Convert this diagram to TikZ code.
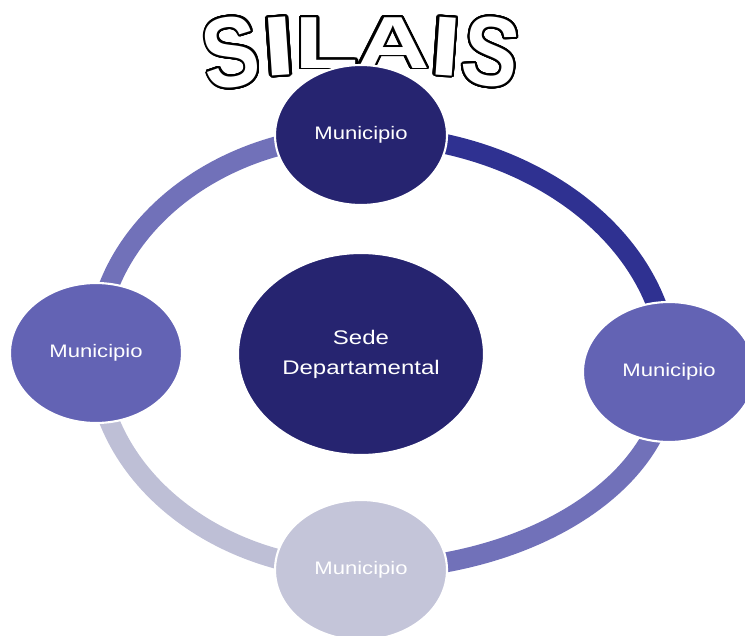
\documentclass[tikz,border=0pt]{standalone}
\usepackage{fontspec}
\usepackage{graphicx}
\usepackage[copies]{contour}
\usetikzlibrary{shapes.geometric,backgrounds}
\setmainfont{Liberation Sans}
\newfontfamily\nodefont[FakeStretch=1.22]{Liberation Sans}
\newfontfamily\titlefont{Liberation Sans}
\contourlength{0.9pt}
\contournumber{32}
\definecolor{navy}{HTML}{262470}
\definecolor{ringdark}{HTML}{2F3191}
\definecolor{munmid}{HTML}{6363B4}
\definecolor{ringmid}{HTML}{7171B9}
\definecolor{munlight}{HTML}{C4C5D9}
\definecolor{ringlight}{HTML}{BEBFD6}
\newcommand{\wordart}[3]{\scalebox{#1}[#2]{{\color{white}\contour{black}{#3}}}}
\begin{document}
\begin{tikzpicture}[scale=0.2]
\tikzstyle{every node}+=[inner sep=0pt]
\tikzstyle{muni}=[ellipse, draw=white, line width=1.2pt, minimum width=3.44cm, minimum height=2.8cm, text=white, font=\nodefont\fontsize{10.3}{12}\selectfont]
\tikzstyle{sede}=[muni, minimum width=4.92cm, minimum height=4.04cm, align=center, font=\nodefont\fontsize{11.2}{17}\selectfont]
\tikzstyle{ring}=[line width=0.4cm]
\tikzstyle{letter}=[anchor=north, font=\titlefont\bfseries\fontsize{40}{40}\selectfont]
\useasboundingbox (0,0) rectangle (74.5,-63.6);
% titulo
\node [letter, rotate=8] (t1) at (22.6,-1.7) {\wordart{1.2}{1.42}{S}};
\node [letter, rotate=4] (t2) at (27.7,-1.7) {\wordart{1.7}{1.2}{I}};
\node [letter] (t3) at (32.7,-1.7) {\wordart{1.5}{1.05}{L}};
\node [letter] (t4) at (39.3,-1.7) {\wordart{1.45}{1.05}{A}};
\node [letter, rotate=-4] (t5) at (44.8,-1.7) {\wordart{1.6}{1.2}{I}};
\node [letter, rotate=-8] (t6) at (49.6,-1.7) {\wordart{1.2}{1.4}{S}};
% nodos
\node [muni, fill=navy] (mtop) at (36.1,-13.5) {Municipio};
\node [muni, fill=munmid] (mright) at (66.9,-37.2) {Municipio};
\node [muni, fill=munlight] (mbottom) at (36.1,-57) {Municipio};
\node [muni, fill=munmid] (mleft) at (9.6,-35.3) {Municipio};
\node [sede, fill=navy] (sede) at (36.1,-35.4) {Sede\\Departamental};
% anillo
\begin{pgfonlayer}{background}
\draw [ring, ringdark] (mtop.center) .. controls +(17,0) and +(0,13.1) .. (mright.center);
\draw [ring, ringmid] (mright.center) .. controls +(0,-10.9) and +(17,0) .. (mbottom.center);
\draw [ring, ringlight] (mleft.center) .. controls +(0,-12) and +(-14.6,0) .. (mbottom.center);
\draw [ring, ringmid] (mtop.center) .. controls +(-14.6,0) and +(0,12) .. (mleft.center);
\end{pgfonlayer}
\end{tikzpicture}
\end{document}
